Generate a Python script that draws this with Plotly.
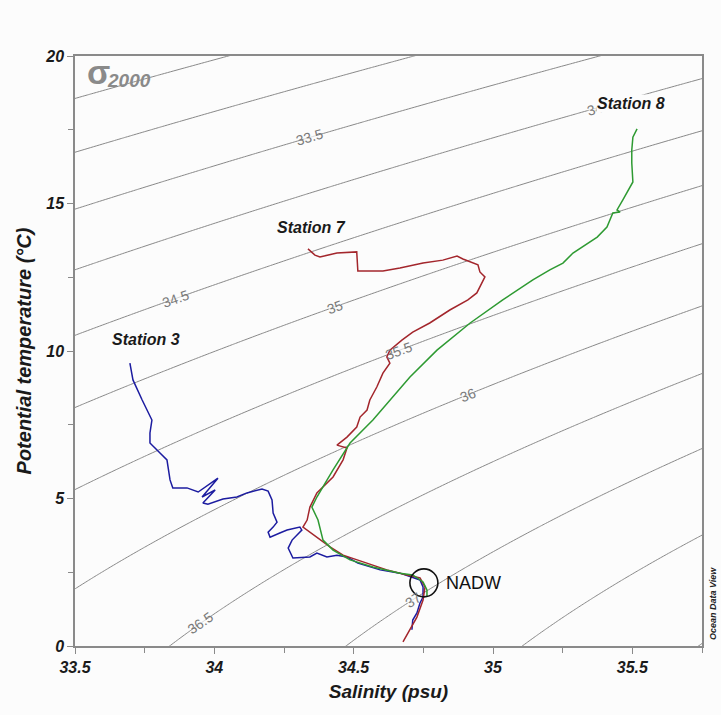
import numpy as np
import plotly.graph_objects as go

# ---------------- data ----------------
st3_sal = [33.697, 33.708, 33.741, 33.776, 33.769, 33.769, 33.805, 33.830, 33.841, 33.851,
           33.902, 33.942, 34.013, 33.956, 34.003, 33.959, 33.977, 34.031, 34.081, 34.117,
           34.171, 34.193, 34.207, 34.211, 34.225, 34.211, 34.193, 34.200, 34.235, 34.261,
           34.307, 34.314, 34.279, 34.265, 34.282, 34.343, 34.368, 34.404, 34.440, 34.476,
           34.515, 34.558, 34.595, 34.666, 34.712, 34.738, 34.749, 34.749, 34.738, 34.727,
           34.712, 34.709]
st3_theta = [9.59, 9.02, 8.34, 7.66, 7.22, 6.88, 6.54, 6.31, 5.63, 5.36,
             5.36, 5.22, 5.69, 5.05, 5.29, 4.85, 4.81, 4.98, 5.05, 5.19,
             5.32, 5.25, 4.95, 4.51, 4.20, 4.03, 3.86, 3.69, 3.83, 3.93,
             4.03, 3.93, 3.59, 3.32, 2.98, 3.02, 3.15, 3.02, 3.08, 3.02,
             2.81, 2.68, 2.58, 2.47, 2.34, 2.24, 2.00, 1.66, 1.46, 1.12,
             0.88, 0.55]

st7_sal = [34.336, 34.361, 34.379, 34.440, 34.511, 34.515, 34.605, 34.666, 34.749, 34.820,
           34.871, 34.892, 34.946, 34.953, 34.971, 34.960, 34.942, 34.910, 34.845, 34.773,
           34.712, 34.673, 34.630, 34.619, 34.630, 34.605, 34.583, 34.558, 34.548, 34.523,
           34.511, 34.476, 34.440, 34.476, 34.462, 34.426, 34.368, 34.343, 34.333, 34.318,
           34.343, 34.379, 34.415, 34.462, 34.548, 34.619, 34.691, 34.738, 34.756, 34.749,
           34.727, 34.702, 34.677]
st7_theta = [13.46, 13.25, 13.19, 13.32, 13.36, 12.71, 12.71, 12.81, 12.98, 13.08,
             13.22, 13.12, 12.92, 12.68, 12.51, 12.31, 11.97, 11.73, 11.39, 10.95,
             10.64, 10.37, 10.03, 9.80, 9.59, 9.25, 8.78, 8.34, 8.00, 7.76,
             7.42, 7.08, 6.81, 6.71, 6.31, 5.73, 5.19, 4.71, 4.27, 4.03,
             3.86, 3.59, 3.36, 3.08, 2.81, 2.58, 2.41, 2.31, 2.00, 1.56,
             0.98, 0.54, 0.14]

st8_sal = [35.517, 35.502, 35.498, 35.498, 35.502, 35.491, 35.466, 35.445, 35.456, 35.430,
           35.409, 35.374, 35.323, 35.287, 35.251, 35.204, 35.143, 35.035, 34.918, 34.799,
           34.702, 34.630, 34.569, 34.487, 34.426, 34.368, 34.350, 34.372, 34.390, 34.426,
           34.487, 34.569, 34.666, 34.712, 34.749, 34.763, 34.763]
st8_theta = [17.53, 17.25, 16.81, 16.37, 15.73, 15.53, 15.12, 14.78, 14.71, 14.68,
             14.20, 13.86, 13.53, 13.32, 12.98, 12.75, 12.41, 11.73, 10.95, 10.03,
             9.12, 8.34, 7.66, 6.88, 5.97, 5.05, 4.71, 4.27, 3.59, 3.25,
             2.92, 2.68, 2.47, 2.41, 2.17, 1.90, 1.66]

station_names = ["Station 3", "Station 7", "Station 8"]
station_colors = ["#1c1ca0", "#a3262c", "#2e9a32"]
station_label_pos = [(33.755, 10.4), (34.347, 14.2), (35.495, 18.4)]

x_ticks = [33.5, 34, 34.5, 35, 35.5]
x_tick_text = ["33.5", "34", "34.5", "35", "35.5"]
y_ticks = [0, 5, 10, 15, 20]
x_range = [33.5, 35.75]
y_range = [0, 20]

nadw_sal, nadw_theta = 34.752, 2.14

# contour labels: (level, salinity where the label sits)
contour_labels = [(34.0, 35.365), (33.5, 34.343), (34.5, 33.859), (35.0, 34.433),
                  (35.5, 34.66), (36.0, 34.910), (36.5, 33.95), (37.0, 34.713)]


# ---------------- UNESCO EOS-80 ----------------
def atg(S, T, P):
    DS = S - 35.0
    return ((((-2.1687e-16 * T + 1.8676e-14) * T - 4.6206e-13) * P
             + ((2.7759e-12 * T - 1.1351e-10) * DS
                + ((-5.4481e-14 * T + 8.733e-12) * T - 6.7795e-10) * T + 1.8741e-8)) * P
            + (-4.2393e-8 * T + 1.8932e-6) * DS
            + ((6.6228e-10 * T - 6.836e-8) * T + 8.5258e-6) * T + 3.5803e-5)


def ptemp(S, T0, P0, PR):
    Hh = PR - P0
    XK = Hh * atg(S, T0, P0)
    T = T0 + 0.5 * XK
    Q = XK
    P = P0 + 0.5 * Hh
    XK = Hh * atg(S, T, P)
    T = T + 0.29289322 * (XK - Q)
    Q = 0.58578644 * XK + 0.121320344 * Q
    XK = Hh * atg(S, T, P)
    T = T + 1.707106781 * (XK - Q)
    Q = 3.414213562 * XK - 4.121320344 * Q
    P = P + 0.5 * Hh
    XK = Hh * atg(S, T, P)
    return T + (XK - 2.0 * Q) / 6.0


def rho_p(S, T, p_bar):
    rw = (999.842594 + 6.793952e-2 * T - 9.095290e-3 * T**2 + 1.001685e-4 * T**3
          - 1.120083e-6 * T**4 + 6.536332e-9 * T**5)
    r0 = (rw + S * (0.824493 - 4.0899e-3 * T + 7.6438e-5 * T**2 - 8.2467e-7 * T**3 + 5.3875e-9 * T**4)
          + S**1.5 * (-5.72466e-3 + 1.0227e-4 * T - 1.6546e-6 * T**2) + 4.8314e-4 * S**2)
    Kw = 19652.21 + 148.4206 * T - 2.327105 * T**2 + 1.360477e-2 * T**3 - 5.155288e-5 * T**4
    K0 = (Kw + S * (54.6746 - 0.603459 * T + 1.09987e-2 * T**2 - 6.1670e-5 * T**3)
          + S**1.5 * (7.944e-2 + 1.6483e-2 * T - 5.3009e-4 * T**2))
    Aw = 3.239908 + 1.43713e-3 * T + 1.16092e-4 * T**2 - 5.77905e-7 * T**3
    A = Aw + S * (2.2838e-3 - 1.0981e-5 * T - 1.6078e-6 * T**2) + 1.91075e-4 * S**1.5
    Bw = 8.50935e-5 - 6.12293e-6 * T + 5.2787e-8 * T**2
    B = Bw + S * (-9.9348e-7 + 2.0816e-8 * T + 9.1697e-10 * T**2)
    K = K0 + A * p_bar + B * p_bar**2
    return r0 / (1 - p_bar / K)


def sigma2000(S, theta0):
    S = np.asarray(S, float)
    theta0 = np.asarray(theta0, float)
    t2 = ptemp(S, theta0, 0.0, 2000.0)
    return rho_p(S, t2, 200.0) - 1000.0


def theta_on_level(level, S):
    lo, hi = -3.0, 35.0
    for _ in range(60):
        mid = 0.5 * (lo + hi)
        if sigma2000(S, mid) > level:
            lo = mid
        else:
            hi = mid
    return 0.5 * (lo + hi)


S_grid = np.linspace(33.3, 35.95, 240)
T_grid = np.linspace(-1.0, 21.0, 240)
SS, TT = np.meshgrid(S_grid, T_grid)
SIG = sigma2000(SS, TT)

# ---------------- layout geometry ----------------
W, H = 721, 715
ml, mr, mt, mb = 75, 19, 56, 69
pw, ph = W - ml - mr, H - mt - mb
px_per_S = pw / (x_range[1] - x_range[0])
px_per_T = ph / (y_range[1] - y_range[0])
bg = "#fcfcfc"
FONT = "Liberation Sans"
LBL_SIZE = 14

fig = go.Figure()
fig.add_trace(go.Contour(
    x=S_grid, y=T_grid, z=SIG,
    contours=dict(coloring="lines", start=30, end=40, size=0.5, showlabels=False),
    colorscale=[[0, "#888888"], [1, "#888888"]], showscale=False,
    line=dict(width=1, smoothing=1), hoverinfo="skip",
))

# label positions / angles on the isopycnals
lab_x, lab_y, lab_ang, lab_txt = [], [], [], []
for level, s in contour_labels:
    t = theta_on_level(level, s)
    eps = 0.01
    dT = theta_on_level(level, s + eps) - t
    ang = float(np.degrees(np.arctan2(-dT * px_per_T, eps * px_per_S)))
    lab_x.append(s)
    lab_y.append(t)
    lab_ang.append(ang)
    lab_txt.append("%g" % level)

# gaps in the isopycnals under the labels (drawn below the station profiles)
fig.add_trace(go.Scatter(
    x=lab_x, y=lab_y, mode="markers", hoverinfo="skip", showlegend=False,
    marker=dict(symbol="line-ew", size=[len(t) * 8 + 6 for t in lab_txt],
                angle=[a + 90 for a in lab_ang],
                line=dict(color=bg, width=13), color=bg),
))

for s, t, name, col in zip([st3_sal, st7_sal, st8_sal], [st3_theta, st7_theta, st8_theta],
                           station_names, station_colors):
    fig.add_trace(go.Scatter(x=s, y=t, mode="lines", name=name,
                             line=dict(color=col, width=1.5), showlegend=False))

annotations = []
for s, t, ang, txt in zip(lab_x, lab_y, lab_ang, lab_txt):
    annotations.append(dict(x=s, y=t, text=txt, showarrow=False, textangle=ang,
                            font=dict(family=FONT, size=LBL_SIZE, color="#7a7a7a"),
                            xanchor="center", yanchor="middle"))

for (sx, ty), name in zip(station_label_pos, station_names):
    annotations.append(dict(x=sx, y=ty, text="<b><i>%s</i></b>" % name, showarrow=False,
                            font=dict(family=FONT, size=16, color="#1a1a1a"),
                            xanchor="center", yanchor="middle", bgcolor=bg, borderpad=0))

annotations.append(dict(x=nadw_sal, y=nadw_theta, text="NADW", showarrow=False,
                        xanchor="left", yanchor="middle", xshift=20,
                        font=dict(family=FONT, size=18, color="#111")))

annotations.append(dict(xref="paper", yref="paper", x=(98 - ml) / pw, y=1 - 16 / ph,
                        xanchor="center", yanchor="middle", showarrow=False,
                        text="<b>σ</b>", borderpad=0,
                        font=dict(family=FONT, size=34, color="#8a8a8a")))
annotations.append(dict(xref="paper", yref="paper", x=(106 - ml) / pw, y=1 - 24 / ph,
                        xanchor="left", yanchor="middle", showarrow=False,
                        text="<b><i>2000</i></b>", borderpad=0,
                        font=dict(family=FONT, size=19, color="#8a8a8a")))

annotations.append(dict(xref="paper", yref="paper", x=1 + 11 / pw, y=(646 - 604) / ph,
                        xanchor="center", yanchor="middle", showarrow=False, textangle=-90,
                        text="<b><i>Ocean Data View</i></b>",
                        font=dict(family=FONT, size=9, color="#222")))

shapes = [dict(type="circle", xref="x", yref="y", xsizemode="pixel", ysizemode="pixel",
               xanchor=nadw_sal, yanchor=nadw_theta, x0=-14, x1=14, y0=-14, y1=14,
               line=dict(color="#111", width=1.6))]

axis_common = dict(showgrid=False, zeroline=False, showline=True, linecolor="#8a8a8a",
                   linewidth=1.5, mirror=True, ticks="outside", ticklen=6, tickcolor="#8a8a8a",
                   tickwidth=1.2,
                   tickfont=dict(family=FONT, size=16, color="#1a1a1a",
                                 weight="bold", style="italic"))

fig.update_layout(
    width=W, height=H, margin=dict(l=ml, r=mr, t=mt, b=mb),
    paper_bgcolor=bg, plot_bgcolor=bg, showlegend=False,
    annotations=annotations, shapes=shapes,
    xaxis=dict(range=x_range, tickvals=x_ticks, ticktext=x_tick_text,
               minor=dict(ticks="outside", dtick=0.25, ticklen=5, tickcolor="#8a8a8a"),
               title=dict(text="<b><i>Salinity (psu)</i></b>", standoff=10,
                          font=dict(family=FONT, size=19, color="#1a1a1a")),
               **axis_common),
    yaxis=dict(range=y_range, tickvals=y_ticks,
               minor=dict(ticks="outside", dtick=2.5, ticklen=5, tickcolor="#8a8a8a"),
               title=dict(text="<b><i>Potential temperature (°C)</i></b>", standoff=8,
                          font=dict(family=FONT, size=20, color="#1a1a1a")),
               **axis_common),
)

fig.write_html("out.html")
